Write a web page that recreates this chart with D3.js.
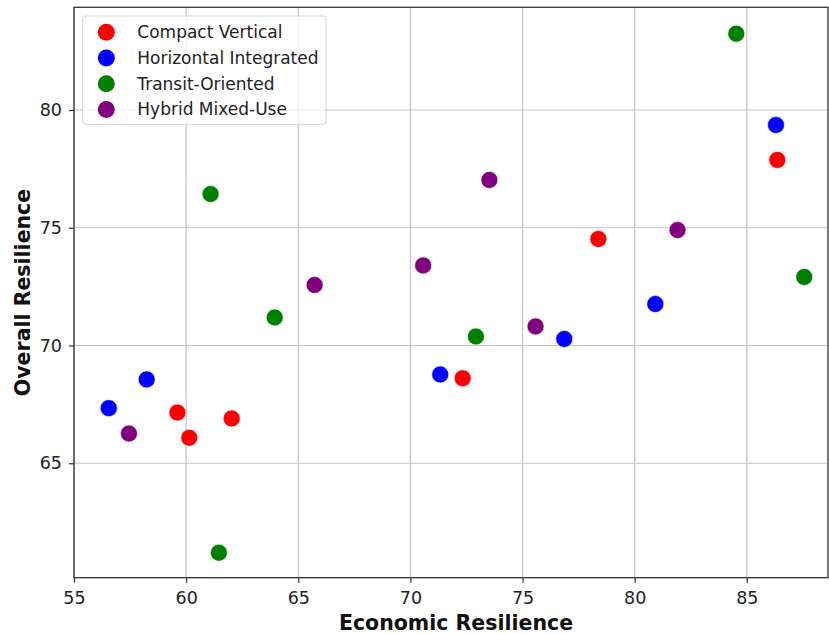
<!DOCTYPE html>
<html>
<head>
<meta charset="utf-8">
<script src="https://cdn.jsdelivr.net/npm/d3@7"></script>
<style>
  html, body { margin: 0; padding: 0; background: #fff; }
  svg { display: block; font-family: "DejaVu Sans", sans-serif; }
</style>
</head>
<body>
<svg id="chart" width="829" height="634"></svg>
<script>
// Scatter of economic vs overall resilience by development type
const categories = ["Compact Vertical", "Horizontal Integrated", "Transit-Oriented", "Hybrid Mixed-Use"];
const colors = ["#ff0000", "#0000ff", "#008000", "#800080"];

const compactEconomic = [59.61, 60.14, 62.03, 72.33, 78.38, 86.36];
const compactOverall  = [67.15, 66.08, 66.90, 68.61, 74.52, 77.88];

const horizontalEconomic = [56.55, 58.24, 71.33, 76.86, 80.92, 86.30];
const horizontalOverall  = [67.34, 68.56, 68.77, 70.28, 71.76, 79.36];

const transitEconomic = [61.09, 63.95, 61.46, 72.92, 84.53, 87.56];
const transitOverall  = [76.43, 71.19, 61.20, 70.38, 83.24, 72.91];

const hybridEconomic = [57.45, 65.73, 70.57, 73.52, 75.58, 81.91];
const hybridOverall  = [66.26, 72.57, 73.40, 77.03, 70.81, 74.90];

const xTicks = [55, 60, 65, 70, 75, 80, 85];
const yTicks = [65, 70, 75, 80];

(function () {
const seriesX = [compactEconomic, horizontalEconomic, transitEconomic, hybridEconomic];
const seriesY = [compactOverall, horizontalOverall, transitOverall, hybridOverall];

const points = [];
categories.forEach((c, i) => {
  seriesX[i].forEach((x, j) => points.push({ cat: i, x: x, y: seriesY[i][j] }));
});

const svg = d3.select("#chart");
const mLeft = 74, mRight = 828, mTop = 7.3, mBottom = 577.7;

const x = d3.scaleLinear().domain([55, 88.62]).range([mLeft, mRight]);
const y = d3.scaleLinear().domain([60.14, 84.36]).range([mBottom, mTop]);

// grid
const grid = svg.append("g").attr("class", "grid");
grid.selectAll("line.gx").data(xTicks).join("line")
  .attr("x1", d => x(d)).attr("x2", d => x(d))
  .attr("y1", mTop).attr("y2", mBottom)
  .attr("stroke", "#c4c4c4").attr("stroke-width", 1.2);
grid.selectAll("line.gy").data(yTicks).join("line")
  .attr("x1", mLeft).attr("x2", mRight)
  .attr("y1", d => y(d)).attr("y2", d => y(d))
  .attr("stroke", "#c4c4c4").attr("stroke-width", 1.2);

// axes
const xAxis = svg.append("g")
  .attr("transform", `translate(0,${mBottom})`)
  .call(d3.axisBottom(x).tickValues(xTicks).tickSize(5).tickPadding(9).tickSizeOuter(0));
const yAxis = svg.append("g")
  .attr("transform", `translate(${mLeft},0)`)
  .call(d3.axisLeft(y).tickValues(yTicks).tickSize(5).tickPadding(7).tickSizeOuter(0));
[xAxis, yAxis].forEach(a => {
  a.select(".domain").remove();
  a.selectAll(".tick line").attr("stroke", "#333").attr("stroke-width", 1.2);
  a.selectAll(".tick text").attr("fill", "#222")
    .style("font-family", "DejaVu Sans").style("font-size", "17.5px");
});

// frame
svg.append("rect")
  .attr("x", mLeft).attr("y", mTop)
  .attr("width", mRight - mLeft).attr("height", mBottom - mTop)
  .attr("fill", "none").attr("stroke", "#333").attr("stroke-width", 1.3);

// points
svg.append("g").selectAll("circle").data(points).join("circle")
  .attr("cx", d => x(d.x)).attr("cy", d => y(d.y))
  .attr("r", 8.5)
  .attr("fill", d => colors[d.cat])
  .attr("stroke", "#fff").attr("stroke-width", 0.6);

// axis titles
svg.append("text")
  .attr("x", 456).attr("y", 629.5)
  .attr("text-anchor", "middle")
  .style("font-size", "20.5px").style("font-weight", "bold")
  .attr("fill", "#111")
  .text("Economic Resilience");
svg.append("text")
  .attr("transform", `translate(29.5,${(mTop + mBottom) / 2}) rotate(-90)`)
  .attr("text-anchor", "middle")
  .style("font-size", "20.5px").style("font-weight", "bold")
  .attr("fill", "#111")
  .text("Overall Resilience");

// legend
const legend = svg.append("g");
legend.append("rect")
  .attr("x", 82.7).attr("y", 16).attr("width", 243.3).attr("height", 108.3)
  .attr("rx", 3)
  .attr("fill", "#fff").attr("fill-opacity", 0.8)
  .attr("stroke", "#d6d6d6").attr("stroke-width", 1);
const rows = legend.selectAll("g.row").data(categories).join("g")
  .attr("transform", (d, i) => `translate(106.3,${32.3 + i * 25.7})`);
rows.append("circle").attr("r", 8.5).attr("fill", (d, i) => colors[i]);
rows.append("text")
  .attr("x", 31).attr("dy", "0.35em")
  .style("font-size", "17px").attr("fill", "#222")
  .text(d => d);
})();
</script>
</body>
</html>
